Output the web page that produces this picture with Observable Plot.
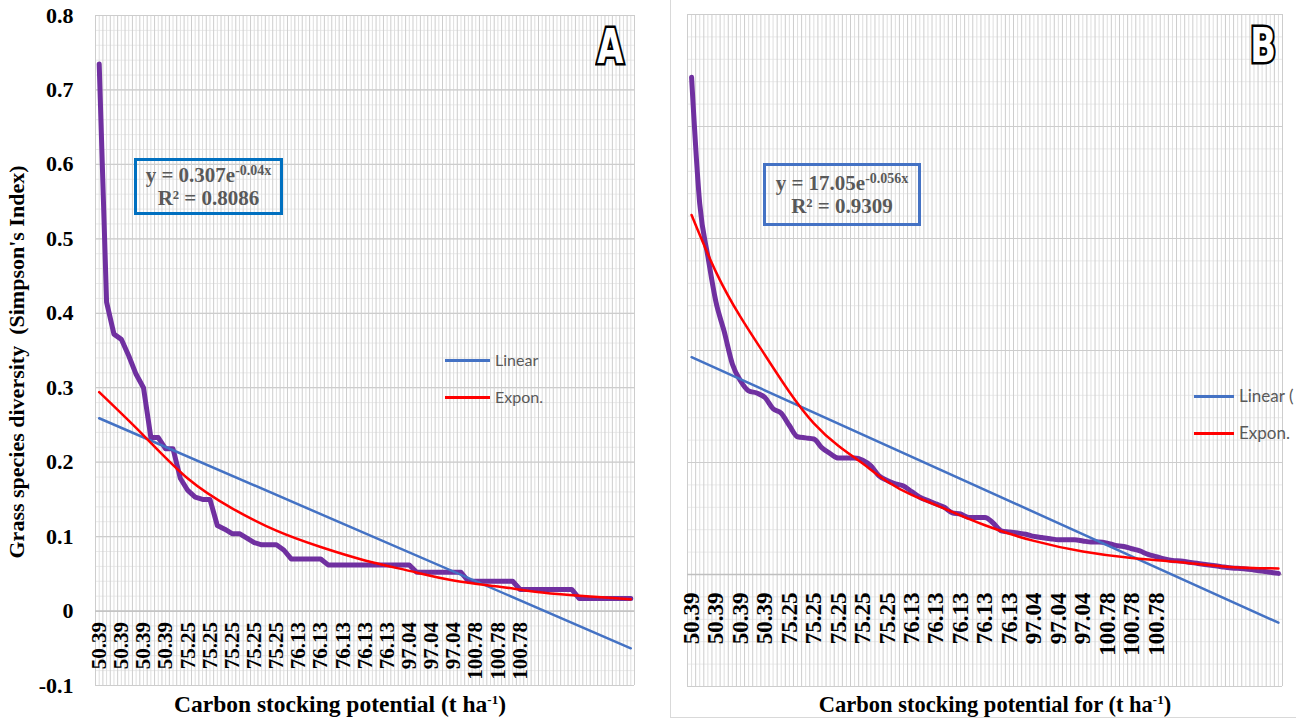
<!DOCTYPE html>
<html><head><meta charset="utf-8">
<script src="https://cdn.jsdelivr.net/npm/d3@7"></script>
<script src="https://cdn.jsdelivr.net/npm/@observablehq/plot@0.6"></script>
<style>
html,body{margin:0;padding:0;background:#fff;}
#wrap{position:relative;width:1296px;height:722px;overflow:hidden;background:#fff;}
#wrap svg text{font-family:"Liberation Serif","Times New Roman","DejaVu Serif",serif !important;font-weight:bold !important;}
.abs{position:absolute;}
.serif{font-family:"Liberation Serif","Times New Roman","DejaVu Serif",serif !important;font-weight:bold;}
.eq{border:3px solid #0070C0;color:#595959;text-align:center;font-size:21px;line-height:23px;box-sizing:border-box;padding-top:3px;white-space:nowrap;}
.eq sup{font-size:14px;vertical-align:7px;line-height:0;}
.leg{font-family:Lato,"Open Sans",sans-serif;color:#595959;font-size:16px;white-space:nowrap;}
.legline{height:3px;}
.title sup{font-size:13px;vertical-align:8px;line-height:0;}
.letter{font-family:"DejaVu Sans Condensed","DejaVu Sans",sans-serif;font-weight:bold;font-size:48px;color:#fff;-webkit-text-stroke:5px #000;paint-order:stroke fill;line-height:1;transform-origin:right top;}
</style></head><body><div id="wrap"></div>
<script>
// ---------- data ----------
const categoryCount = 73;
const labelStep = 3;
const tickLabelsA = ["50.39","50.39","50.39","50.39","75.25","75.25","75.25","75.25","75.25","76.13","76.13","76.13","76.13","76.13","97.04","97.04","97.04","100.78","100.78","100.78"];
const tickLabelsB = ["50.39","50.39","50.39","50.39","75.25","75.25","75.25","75.25","75.25","76.13","76.13","76.13","76.13","76.13","97.04","97.04","97.04","100.78","100.78","100.78"];
const yTicksA = [-0.1, 0, 0.1, 0.2, 0.3, 0.4, 0.5, 0.6, 0.7, 0.8];
const yTickLabelsA = ["-0.1","0","0.1","0.2","0.3","0.4","0.5","0.6","0.7","0.8"];

const diversityA = [0.735,0.415,0.372,0.365,0.343,0.318,0.300,0.233,0.233,0.218,
0.218,0.178,0.162,0.153,0.150,0.150,0.115,0.110,0.104,0.104,
0.098,0.092,0.089,0.089,0.089,0.082,0.070,0.070,0.070,0.070,
0.070,0.062,0.062,0.062,0.062,0.062,0.062,0.062,0.062,0.062,
0.062,0.062,0.062,0.052,0.052,0.052,0.052,0.052,0.052,0.052,
0.040,0.040,0.040,0.040,0.040,0.040,0.040,0.029,0.029,0.029,
0.029,0.029,0.029,0.029,0.029,0.017,0.017,0.017,0.017,0.017,
0.017,0.017,0.017];
const diversityB = [0.444,0.331,0.284,0.243,0.217,0.188,0.173,0.164,0.162,0.158,
0.148,0.144,0.133,0.123,0.122,0.121,0.113,0.108,0.104,0.104,
0.104,0.102,0.097,0.088,0.084,0.081,0.079,0.074,0.069,0.066,
0.063,0.060,0.055,0.054,0.051,0.051,0.051,0.046,0.039,0.038,
0.037,0.036,0.034,0.033,0.032,0.031,0.031,0.031,0.030,0.029,
0.029,0.028,0.026,0.025,0.023,0.021,0.018,0.016,0.014,0.0125,
0.012,0.011,0.010,0.009,0.008,0.007,0.006,0.0055,0.005,0.004,
0.003,0.002,0.001];

// trend lines (value at first and last category)
const linearA = [0.259, -0.050];
const linearB = [0.194, -0.043];
// exponential trend lines read at selected categories
const exponIdxA = [0,6,12,18,24,30,36,42,48,54,60,66,72];
const exponA = [0.294,0.236,0.178,0.138,0.108,0.086,0.068,0.054,0.041,0.033,0.025,0.020,0.016];
const exponIdxB = [0,3,6,9,12,15,18,21,24,27,30,36,42,48,54,60,66,72];
const exponB = [0.321,0.270,0.230,0.196,0.163,0.135,0.115,0.099,0.083,0.071,0.062,0.044,0.030,0.0205,0.0147,0.011,0.0068,0.0054];

// ---------- drawing ----------
const serif = '"Liberation Serif", "Times New Roman", serif';
const wrap = document.getElementById("wrap");

function panel(o) {
  const N = categoryCount;
  const boundaries = d3.range(N + 1).map(i => i - 0.5);
  const centers = d3.range(N);
  const [y0, y1] = o.yDomain;
  const yMajor = d3.range(Math.round((y1 - y0) / 0.1) + 1).map(k => +(y0 + k * 0.1).toFixed(2));
  const yMinor = d3.range(Math.round((y1 - y0) / 0.02) + 1).map(k => +(y0 + k * 0.02).toFixed(3));
  const series = o.values.map((v, i) => ({i, v}));
  const lin = [{i: 0, v: o.linear[0]}, {i: N - 1, v: o.linear[1]}];
  const exp = o.expIdx.map((i, k) => ({i, v: o.expVals[k]}));
  const marks = [
    Plot.ruleY(yMinor, {stroke: "#eaeaea", strokeWidth: 1}),
    Plot.ruleX(centers, {stroke: "#dedede", strokeWidth: 1}),
    Plot.ruleX(boundaries, {stroke: "#cdcdcd", strokeWidth: 1}),
    Plot.ruleY(yMajor, {stroke: "#cdcdcd", strokeWidth: 1.2}),
    Plot.ruleY([0], {stroke: "#bfbfbf", strokeWidth: 1.3}),
    Plot.line(series, {x: "i", y: "v", stroke: "#7030A0", strokeWidth: 5, curve: o.curve, strokeLinejoin: "round", strokeLinecap: "round"}),
    Plot.line(lin, {x: "i", y: "v", stroke: "#4472C4", strokeWidth: 2.5}),
    Plot.line(exp, {x: "i", y: "v", stroke: "#FF0000", strokeWidth: 2.5, curve: "natural"}),
    Plot.text(o.labels, {x: (d, i) => i * labelStep, y: () => 0, text: d => d, rotate: -90, textAnchor: "end", lineAnchor: "middle", dy: o.labelDy, fontSize: o.labelSize, fontWeight: "bold", fontFamily: serif, fill: "#000"})
  ];
  if (o.showY) {
    marks.push(Plot.axisY(yTicksA, {tickSize: 0, tickPadding: 22, tickFormat: (d) => yTickLabelsA[yTicksA.indexOf(d)], fontSize: 22, fontWeight: "bold", fontFamily: serif, fill: "#000", label: null}));
  }
  return Plot.plot({
    width: o.width, height: 722,
    marginLeft: o.ml, marginRight: o.mr, marginTop: o.mt, marginBottom: o.mb,
    x: {domain: [-0.5, N - 0.5], axis: null},
    y: {domain: o.yDomain, axis: null},
    style: {background: "transparent", fontFamily: serif, fontWeight: "bold", color: "#000", overflow: "visible"},
    marks
  });
}

const svgA = panel({values: diversityA, labels: tickLabelsA, linear: linearA, expIdx: exponIdxA, expVals: exponA,
  yDomain: [-0.1, 0.8], width: 660, ml: 95, mr: 26, mt: 15, mb: 37, labelSize: 21, labelDy: 11,
  showY: true, curve: "linear"});
svgA.style.position = "absolute"; svgA.style.left = "0px"; svgA.style.top = "0px";
wrap.appendChild(svgA);

const boxB = document.createElement("div");
boxB.className = "abs";
boxB.style.cssText = "left:670px;top:0px;width:640px;height:718px;border-left:1px solid #d9d9d9;border-bottom:1px solid #d9d9d9;box-sizing:border-box;";
wrap.appendChild(boxB);

const svgB = panel({values: diversityB, labels: tickLabelsB, linear: linearB, expIdx: exponIdxB, expVals: exponB,
  yDomain: [-0.1, 0.5], width: 626, ml: 17, mr: 14, mt: 14, mb: 36, labelSize: 23, labelDy: 18,
  showY: false, curve: "monotone-x"});
svgB.style.position = "absolute"; svgB.style.left = "670px"; svgB.style.top = "0px";
wrap.appendChild(svgB);

// ---------- text overlays ----------
function add(html, css, cls) {
  const d = document.createElement("div");
  d.className = "abs " + (cls || "");
  d.style.cssText = css;
  d.innerHTML = html;
  wrap.appendChild(d);
  return d;
}
// panel letters
add("A", "right:673px;top:22px;transform:scaleX(0.78);", "letter");
add("B", "right:20px;top:21px;transform:scaleX(0.78);", "letter");
// y-axis title
add("Grass species diversity&nbsp; (Simpson's Index)",
  "left:17px;top:362px;transform:translate(-50%,-50%) rotate(-90deg);font-size:22px;white-space:nowrap;color:#000;", "serif");
// x-axis titles
add("Carbon stocking potential (t ha<sup>-1</sup>)",
  "left:340px;top:691px;transform:translateX(-50%);font-size:23.5px;white-space:nowrap;color:#000;", "serif title");
add("Carbon stocking potential for (t ha<sup>-1</sup>)",
  "left:995px;top:692px;transform:translateX(-50%);font-size:22.5px;white-space:nowrap;color:#000;", "serif title");
// equation boxes
add("y = 0.307e<sup>-0.04x</sup><br>R² = 0.8086",
  "left:134px;top:158px;width:149px;height:57px;", "serif eq");
add("y = 17.05e<sup>-0.056x</sup><br>R² = 0.9309",
  "left:763px;top:163px;width:158px;height:63px;border-color:#4472C4;padding-top:6px;", "serif eq");
// legends
add("", "left:445px;top:359px;width:45px;background:#4472C4;", "legline");
add("Linear", "left:495px;top:350px;", "leg");
add("", "left:445px;top:396px;width:45px;background:#FF0000;", "legline");
add("Expon.", "left:495px;top:387px;", "leg");
add("", "left:1194px;top:395px;width:40px;background:#4472C4;", "legline");
add("Linear (", "left:1239px;top:385px;font-size:17px;", "leg");
add("", "left:1194px;top:432px;width:40px;background:#FF0000;", "legline");
add("Expon.", "left:1239px;top:422px;font-size:17px;", "leg");
</script>
</body></html>
